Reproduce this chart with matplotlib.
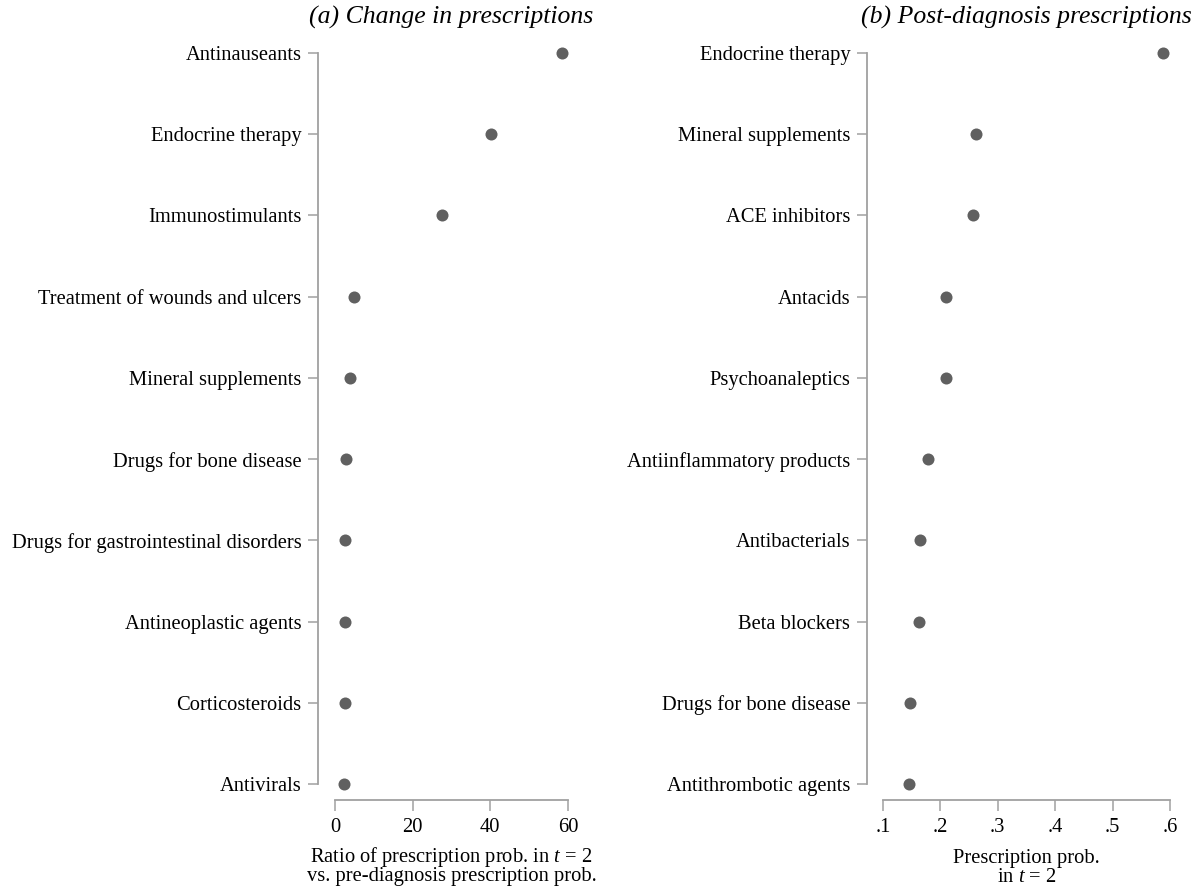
import matplotlib.pyplot as plt
import matplotlib.transforms as mtransforms

plt.rcParams['font.family'] = 'Liberation Serif'
plt.rcParams['mathtext.fontset'] = 'custom'
plt.rcParams['mathtext.rm'] = 'Liberation Serif'
plt.rcParams['mathtext.it'] = 'Liberation Serif:italic'

# panel (a): ratio of post- vs pre-diagnosis prescription prob.
change_labels = ["Antinauseants", "Endocrine therapy", "Immunostimulants",
                 "Treatment of wounds and ulcers", "Mineral supplements",
                 "Drugs for bone disease", "Drugs for gastrointestinal disorders",
                 "Antineoplastic agents", "Corticosteroids", "Antivirals"]
change_values = [58.5, 40.2, 27.6, 4.9, 3.9, 2.8, 2.6, 2.6, 2.6, 2.3]
change_ticks = [0, 20, 40, 60]
change_ticklabels = ["0", "20", "40", "60"]

# panel (b): post-diagnosis prescription prob.
post_labels = ["Endocrine therapy", "Mineral supplements", "ACE inhibitors",
               "Antacids", "Psychoanaleptics", "Antiinflammatory products",
               "Antibacterials", "Beta blockers", "Drugs for bone disease",
               "Antithrombotic agents"]
post_values = [0.588, 0.262, 0.257, 0.210, 0.209, 0.179, 0.165, 0.163, 0.147, 0.145]
post_ticks = [0.1, 0.2, 0.3, 0.4, 0.5, 0.6]
post_ticklabels = [".1", ".2", ".3", ".4", ".5", ".6"]

W, H = 1203, 894
fig = plt.figure(figsize=(W / 100, H / 100), dpi=100)

axis_col = '#a0a0a0'
dot_col = '#606060'
fs = 14.8


def px_axes(left, right, top, bottom):
    return fig.add_axes([left / W, (H - bottom) / H, (right - left) / W, (bottom - top) / H])


def style(ax, labels, values, ticks, ticklabels, x0_px, x1_px, spine_px, right_px, v0, v1):
    n = len(labels)
    ypos = list(range(n))
    ax.scatter(values, ypos, s=75, color=dot_col, zorder=3, linewidths=0)
    # scale: v0 -> x0_px, v1 -> x1_px
    ppu = (x1_px - x0_px) / (v1 - v0)
    ax.set_xlim(v0 - (x0_px - spine_px) / ppu, v0 + (right_px - x0_px) / ppu)
    # rows: first at y=53px, last at 784px, x-axis at 800px, top at 45px
    ppr = (784 - 53) / (n - 1)
    ax.set_ylim((n - 1) + (800 - 784) / ppr, -(53 - 45) / ppr)
    ax.set_yticks(ypos)
    ax.set_yticklabels(labels)
    ax.set_xticks(ticks)
    ax.set_xticklabels(ticklabels)
    for s in ['top', 'right']:
        ax.spines[s].set_visible(False)
    ax.spines['left'].set_bounds(0, n - 1)
    ax.spines['bottom'].set_bounds(ticks[0], ticks[-1])
    for s in ['left', 'bottom']:
        ax.spines[s].set_color(axis_col)
        ax.spines[s].set_linewidth(1.3)
    ax.tick_params(axis='y', length=7, width=1.1, color=axis_col, pad=5, labelsize=fs)
    ax.tick_params(axis='x', length=8, width=1.1, color=axis_col, pad=5, labelsize=fs)
    ax.patch.set_visible(False)


ax1 = px_axes(318, 600, 45, 800)
style(ax1, change_labels, change_values, change_ticks, change_ticklabels,
      335, 568, 318, 600, 0, 60)
ax2 = px_axes(867, 1195, 45, 800)
style(ax2, post_labels, post_values, post_ticks, post_ticklabels,
      883, 1170, 867, 1195, 0.1, 0.6)

tr1 = mtransforms.blended_transform_factory(ax1.transData, fig.transFigure)
ax1.text(30, (H - 857) / H, "Ratio of prescription prob. in $t$ = 2",
         transform=tr1, ha='center', va='center', fontsize=fs)
ax1.text(30, (H - 877) / H, "vs. pre-diagnosis prescription prob.",
         transform=tr1, ha='center', va='center', fontsize=fs)
tr2 = mtransforms.blended_transform_factory(ax2.transData, fig.transFigure)
ax2.text(0.35, (H - 858) / H, "Prescription prob.",
         transform=tr2, ha='center', va='center', fontsize=fs)
ax2.text(0.35, (H - 878) / H, "in $t$ = 2",
         transform=tr2, ha='center', va='center', fontsize=fs)

# panel titles, centred over each x-axis
ax1.text(30, (H - 17) / H, "(a) Change in prescriptions", transform=tr1,
         ha='center', va='center', fontsize=18.5, style='italic')
ax2.text(0.35, (H - 17) / H, "(b) Post-diagnosis prescriptions", transform=tr2,
         ha='center', va='center', fontsize=18.5, style='italic')

fig.savefig("out.png", dpi=100)
